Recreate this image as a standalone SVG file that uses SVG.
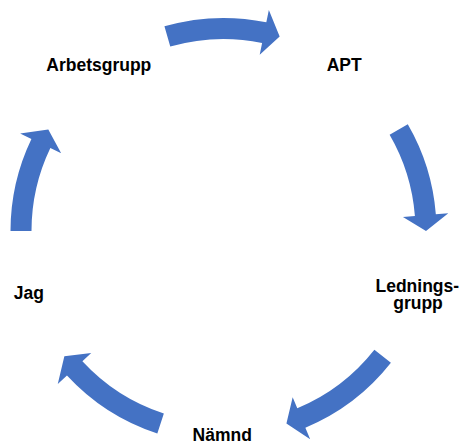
<svg xmlns="http://www.w3.org/2000/svg" width="462" height="441" viewBox="0 0 462 441">
<style>
.lbl{font-family:"Liberation Sans",Arial,sans-serif;font-weight:bold;font-size:17.5px;fill:#000;text-anchor:middle}
.arr{fill:#4472C4;stroke:none}
</style>
<rect width="462" height="441" fill="#fff"/>
<g id="connectors">
<path class="arr" d="M164.43,26.35 A213,213 0 0 1 266.33,22.35 L268.85,10.1 L279.65,36.44 L259.7,54.67 L262.11,42.92 A192,192 0 0 0 170.26,46.53 Z"/>
<path class="arr" d="M407.79,124.18 A213,213 0 0 1 435.84,214.29 L448.31,213.31 L426,231 L402.95,216.88 L414.91,215.94 A192,192 0 0 0 389.62,134.71 Z"/>
<path class="arr" d="M390.9,362.72 A213,213 0 0 1 305.36,427.64 L310.16,439.18 L286.42,423.48 L292.67,397.18 L297.29,408.25 A192,192 0 0 0 374.39,349.73 Z"/>
<path class="arr" d="M157.32,433.46 A213,213 0 0 1 66.97,375.46 L57.78,383.93 L64.36,356.23 L91.22,353.08 L82.4,361.21 A192,192 0 0 0 163.85,413.5 Z"/>
<path class="arr" d="M10.5,231 A213,213 0 0 1 31.42,138.96 L20.14,133.56 L48.3,129.45 L61.18,153.22 L50.35,148.04 A192,192 0 0 0 31.5,231 Z"/>
</g>
<g id="node-apt"><text class="lbl" x="344.2" y="70.6">APT</text></g>
<g id="node-ledningsgrupp"><text class="lbl" x="417.3" y="292.3">Lednings-</text><text class="lbl" x="418" y="309">grupp</text></g>
<g id="node-namnd"><text class="lbl" x="222.2" y="440.5">Nämnd</text></g>
<g id="node-jag"><text class="lbl" x="28.8" y="299.3">Jag</text></g>
<g id="node-arbetsgrupp"><text class="lbl" x="98.8" y="70.6">Arbetsgrupp</text></g>
</svg>
